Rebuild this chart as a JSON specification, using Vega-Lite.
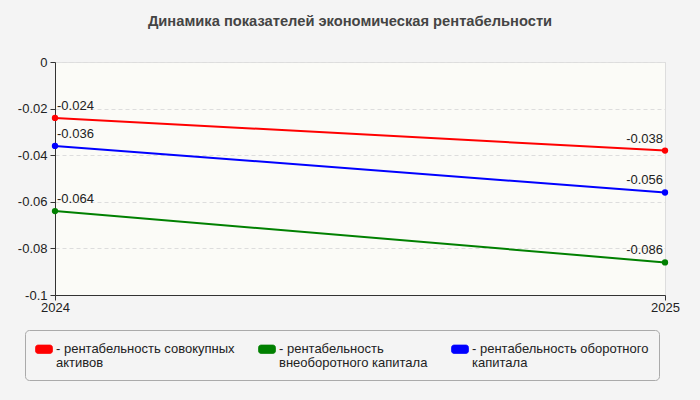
{
  "$schema": "https://vega.github.io/schema/vega-lite/v6.json",
  "width": 610,
  "height": 233,
  "autosize": {"type": "none"},
  "padding": {"left": 55, "top": 62, "right": 35, "bottom": 105},
  "background": "#f4f4f4",
  "title": {
    "text": "Динамика показателей экономическая рентабельности",
    "font": "Liberation Sans",
    "fontSize": 14.7,
    "fontWeight": "bold",
    "color": "#444444",
    "anchor": "middle",
    "dx": -10,
    "offset": 27
  },
  "config": {
    "locale": {"number": {"decimal": ".", "thousands": ",", "grouping": [3], "currency": ["$", ""], "minus": "-"}},
    "view": {"fill": "#fbfbf7", "stroke": "#e0e0e0"},
    "font": "Liberation Sans"
  },
  "data": {
    "values": [
      {"year": "2024", "series": "рентабельность совокупных активов", "value": -0.024},
      {"year": "2025", "series": "рентабельность совокупных активов", "value": -0.038},
      {"year": "2024", "series": "рентабельность внеоборотного капитала", "value": -0.064},
      {"year": "2025", "series": "рентабельность внеоборотного капитала", "value": -0.086},
      {"year": "2024", "series": "рентабельность оборотного капитала", "value": -0.036},
      {"year": "2025", "series": "рентабельность оборотного капитала", "value": -0.056}
    ]
  },
  "encoding": {
    "x": {
      "field": "year", "type": "ordinal",
      "scale": {"type": "point", "padding": 0},
      "axis": {
        "title": null, "labelAngle": 0, "labelFontSize": 13, "labelColor": "#222222",
        "domainColor": "#333333", "tickColor": "#333333", "tickSize": 5,
        "grid": true, "gridColor": "#dddddd", "labelPadding": 1
      }
    },
    "y": {
      "field": "value", "type": "quantitative",
      "scale": {"domain": [-0.1, 0], "nice": false},
      "axis": {
        "title": null, "values": [0, -0.02, -0.04, -0.06, -0.08, -0.1],
        "format": ".2~f", "labelFontSize": 13, "labelColor": "#222222",
        "domainColor": "#333333", "tickColor": "#333333", "tickSize": 5,
        "gridColor": "#dddddd", "gridDash": [4, 3], "labelPadding": 3
      }
    },
    "color": {
      "field": "series", "type": "nominal",
      "scale": {
        "domain": ["рентабельность совокупных активов", "рентабельность внеоборотного капитала", "рентабельность оборотного капитала"],
        "range": ["#ff0000", "#008000", "#0000ff"]
      },
      "legend": {
        "title": null,
        "orient": "none",
        "direction": "horizontal",
        "columns": 3,
        "legendX": -30,
        "legendY": 268,
        "padding": 10,
        "fillColor": "#f4f4f4",
        "strokeColor": "#aaaaaa",
        "cornerRadius": 4,
        "columnPadding": 22,
        "labelFontSize": 13,
        "labelColor": "#222222",
        "labelLimit": 300,
        "labelOffset": 3,
        "symbolType": "M-0.7,-0.5 H0.7 A0.3,0.3 0 0 1 1,-0.2 V0.2 A0.3,0.3 0 0 1 0.7,0.5 H-0.7 A0.3,0.3 0 0 1 -1,0.2 V-0.2 A0.3,0.3 0 0 1 -0.7,-0.5 Z",
        "symbolSize": 289,
        "symbolStrokeWidth": 0.7,
        "labelExpr": "datum.label == 'рентабельность совокупных активов' ? ['- рентабельность совокупных', 'активов'] : datum.label == 'рентабельность внеоборотного капитала' ? ['- рентабельность', 'внеоборотного капитала'] : ['- рентабельность оборотного', 'капитала']",
        "encode": {
          "symbols": {"update": {"fill": {"scale": "color", "field": "value"}, "stroke": {"value": "#333333"}}},
          "labels": {"update": {"lineHeight": {"value": 13.5}}}
        }
      }
    }
  },
  "layer": [
    {"mark": {"type": "line", "strokeWidth": 2}},
    {"mark": {"type": "point", "filled": true, "size": 40, "opacity": 1}},
    {
      "transform": [{"filter": "datum.year == '2024'"}],
      "mark": {"type": "text", "align": "left", "baseline": "bottom", "dx": 2, "dy": -5, "fontSize": 13},
      "encoding": {"text": {"field": "value", "type": "quantitative", "format": ".3f"}, "color": {"value": "#222222"}}
    },
    {
      "transform": [{"filter": "datum.year == '2025'"}],
      "mark": {"type": "text", "align": "right", "baseline": "bottom", "dx": -2, "dy": -5, "fontSize": 13},
      "encoding": {"text": {"field": "value", "type": "quantitative", "format": ".3f"}, "color": {"value": "#222222"}}
    }
  ]
}
